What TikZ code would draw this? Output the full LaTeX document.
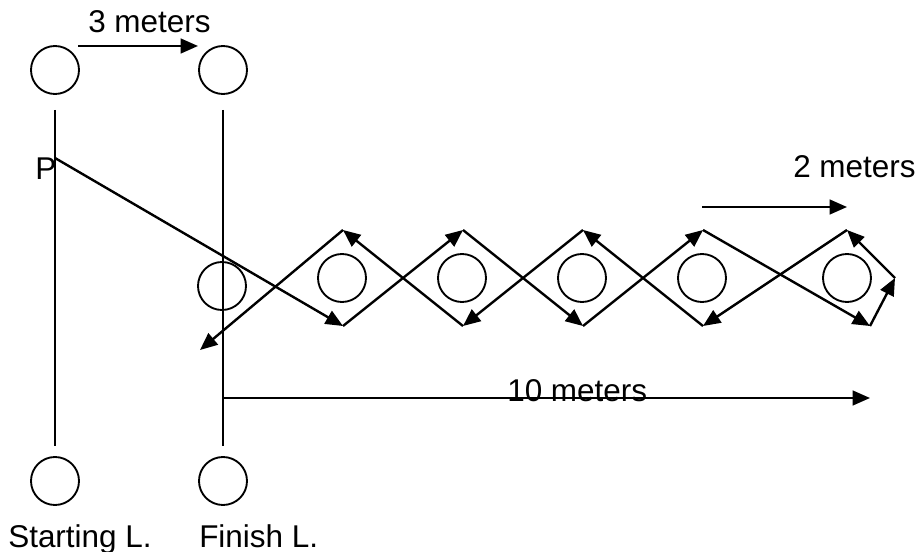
\documentclass[tikz,border=0pt]{standalone}
\usepackage{fontspec}
\setmainfont{Liberation Sans}
\usetikzlibrary{arrows.meta}

\begin{document}
\begin{tikzpicture}[x=0.75pt, y=-0.75pt,
  cone/.style={circle, draw, line width=1.4pt, minimum size=36pt, inner sep=0pt},
  lane/.style={line width=1.4pt},
  run/.style={line width=1.8pt, -{Triangle[length=13pt, width=11pt]}},
  lab/.style={anchor=base west, inner sep=0pt, font=\fontsize{23.6}{28}\selectfont}]
  \useasboundingbox (0,0) rectangle (921,552);

  % 起点线 / 终点线的标志桶
  \node[cone] (s1) at (55,70) {};
  \node[cone] (f1) at (223,70) {};
  \node[cone] (s2) at (55,481) {};
  \node[cone] (f2) at (223,481) {};

  % 两条线
  \coordinate (sa) at (55,110);  \coordinate (sb) at (55,446);
  \coordinate (fa) at (223,110); \coordinate (fb) at (223,446);
  \draw[lane] (sa) -- (sb);
  \draw[lane] (fa) -- (fb);

  % 3 meters
  \coordinate (m3a) at (78,46); \coordinate (m3b) at (198,46);
  \draw[run] (m3a) -- (m3b);
  \node[lab] (t3m) at (88,33) {3 meters};

  % 绕桶的标志桶
  \node[cone] (c0) at (222,286) {};
  \foreach \x [count=\i] in {342,462,582,702,847}
    \node[cone] (c\i) at (\x,278) {};

  % 折返点
  \foreach \x [count=\i] in {343,463,583,703,847}
    \coordinate (t\i) at (\x,230);
  \foreach \x [count=\i] in {343,463,583,703,870}
    \coordinate (b\i) at (\x,326);
  \coordinate (r) at (895,278);
  \coordinate (p) at (55,158);
  \coordinate (e) at (200,350);
  \node[lab] (plab) at (35,180) {P};

  % 路线：去程 + 回程
  \foreach \u/\v in {p/b1, b1/t2, t2/b3, b3/t4, t4/b5, b5/r,
                     r/t5, t5/b4, b4/t3, t3/b2, b2/t1, t1/e}
    \draw[run] (\u) -- (\v);

  % 2 meters
  \coordinate (m2a) at (702,207); \coordinate (m2b) at (847,207);
  \draw[run] (m2a) -- (m2b);
  \node[lab] (t2m) at (793,178) {2 meters};

  % 10 meters
  \coordinate (m10a) at (223,398); \coordinate (m10b) at (870,398);
  \draw[run] (m10a) -- (m10b);
  \node[lab] (t10m) at (507,401) {10 meters};

  % 标注
  \node[lab] (slab) at (8,547) {Starting L.};
  \node[lab] (flab) at (199,547) {Finish L.};
\end{tikzpicture}
\end{document}
